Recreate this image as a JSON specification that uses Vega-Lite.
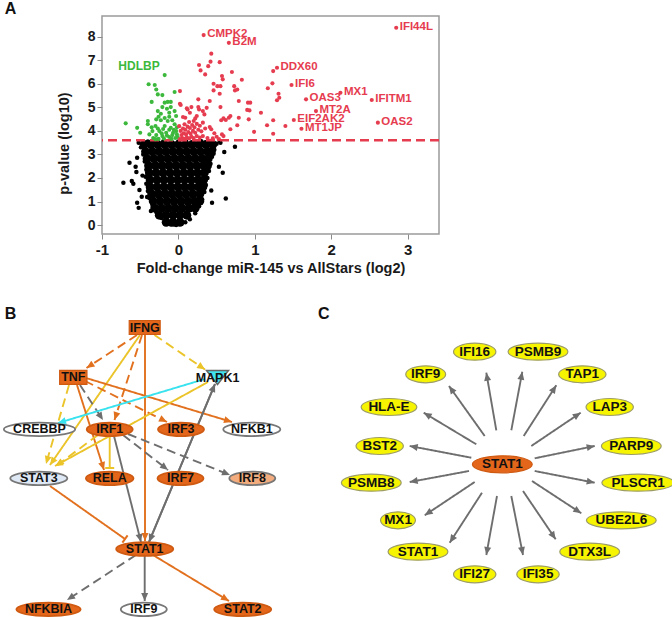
{
"$schema": "https://vega.github.io/schema/vega-lite/v6.json",
"padding": {"left": 0, "top": 1, "right": 0, "bottom": 0},
"bounds": "flush",
"spacing": 10,
"config": {
  "font": "Liberation Sans",
  "view": {"stroke": null},
  "axis": {"labelFontWeight": "bold", "titleFontWeight": "bold", "labelColor": "#1a1a1a", "titleColor": "#1a1a1a", "grid": false, "domain": false, "tickColor": "#8a8a8a", "tickSize": 5, "tickWidth": 1, "labelOverlap": false},
  "axisX": {"labelFontSize": 15, "titleFontSize": 14.5, "labelPadding": 3, "titlePadding": 4},
  "axisY": {"labelFontSize": 14, "titleFontSize": 14.5, "labelPadding": 2, "titlePadding": 16}
},
"datasets": {
  "black_core": [
    {"fc":-0.16,"p":0.12},{"fc":-0.07,"p":0.12},{"fc":0.02,"p":0.12},
    {"fc":-0.25,"p":0.42},{"fc":-0.16,"p":0.42},{"fc":-0.07,"p":0.42},{"fc":0.02,"p":0.42},{"fc":0.11,"p":0.42},
    {"fc":-0.31,"p":0.72},{"fc":-0.22,"p":0.72},{"fc":-0.13,"p":0.72},{"fc":-0.04,"p":0.72},{"fc":0.05,"p":0.72},{"fc":0.14,"p":0.72},{"fc":0.22,"p":0.72},
    {"fc":-0.33,"p":1.02},{"fc":-0.24,"p":1.02},{"fc":-0.15,"p":1.02},{"fc":-0.06,"p":1.02},{"fc":0.03,"p":1.02},{"fc":0.12,"p":1.02},{"fc":0.21,"p":1.02},{"fc":0.28,"p":1.02},
    {"fc":-0.35,"p":1.32},{"fc":-0.26,"p":1.32},{"fc":-0.17,"p":1.32},{"fc":-0.08,"p":1.32},{"fc":0.01,"p":1.32},{"fc":0.10,"p":1.32},{"fc":0.19,"p":1.32},{"fc":0.28,"p":1.32},
    {"fc":-0.37,"p":1.62},{"fc":-0.28,"p":1.62},{"fc":-0.19,"p":1.62},{"fc":-0.10,"p":1.62},{"fc":-0.01,"p":1.62},{"fc":0.08,"p":1.62},{"fc":0.17,"p":1.62},{"fc":0.26,"p":1.62},{"fc":0.32,"p":1.62},
    {"fc":-0.37,"p":1.92},{"fc":-0.28,"p":1.92},{"fc":-0.19,"p":1.92},{"fc":-0.10,"p":1.92},{"fc":-0.01,"p":1.92},{"fc":0.08,"p":1.92},{"fc":0.17,"p":1.92},{"fc":0.26,"p":1.92},{"fc":0.33,"p":1.92},
    {"fc":-0.38,"p":2.22},{"fc":-0.29,"p":2.22},{"fc":-0.20,"p":2.22},{"fc":-0.11,"p":2.22},{"fc":-0.02,"p":2.22},{"fc":0.07,"p":2.22},{"fc":0.16,"p":2.22},{"fc":0.25,"p":2.22},{"fc":0.34,"p":2.22},
    {"fc":-0.39,"p":2.52},{"fc":-0.30,"p":2.52},{"fc":-0.21,"p":2.52},{"fc":-0.12,"p":2.52},{"fc":-0.03,"p":2.52},{"fc":0.06,"p":2.52},{"fc":0.15,"p":2.52},{"fc":0.24,"p":2.52},{"fc":0.33,"p":2.52},{"fc":0.38,"p":2.52},
    {"fc":-0.41,"p":2.82},{"fc":-0.32,"p":2.82},{"fc":-0.23,"p":2.82},{"fc":-0.14,"p":2.82},{"fc":-0.05,"p":2.82},{"fc":0.04,"p":2.82},{"fc":0.13,"p":2.82},{"fc":0.22,"p":2.82},{"fc":0.31,"p":2.82},{"fc":0.39,"p":2.82},
    {"fc":-0.43,"p":3.12},{"fc":-0.34,"p":3.12},{"fc":-0.25,"p":3.12},{"fc":-0.16,"p":3.12},{"fc":-0.07,"p":3.12},{"fc":0.02,"p":3.12},{"fc":0.11,"p":3.12},{"fc":0.20,"p":3.12},{"fc":0.29,"p":3.12},{"fc":0.38,"p":3.12},{"fc":0.43,"p":3.12},
    {"fc":-0.45,"p":3.42},{"fc":-0.36,"p":3.42},{"fc":-0.27,"p":3.42},{"fc":-0.18,"p":3.42},{"fc":-0.09,"p":3.42},{"fc":0.00,"p":3.42},{"fc":0.09,"p":3.42},{"fc":0.18,"p":3.42},{"fc":0.27,"p":3.42},{"fc":0.36,"p":3.42},{"fc":0.45,"p":3.42}
  ],
  "black_edge": [
    {"fc":-0.22,"p":0.3},{"fc":-0.29,"p":0.55},{"fc":-0.34,"p":0.85},{"fc":-0.38,"p":1.15},{"fc":-0.4,"p":1.45},{"fc":-0.42,"p":1.75},{"fc":-0.43,"p":2.05},{"fc":-0.42,"p":2.35},{"fc":-0.44,"p":2.7},{"fc":-0.46,"p":3.0},{"fc":-0.49,"p":3.3},{"fc":-0.52,"p":3.5},{"fc":-0.47,"p":3.43},{"fc":-0.38,"p":2.29},{"fc":-0.41,"p":1.19},{"fc":-0.36,"p":0.6},
    {"fc":0.15,"p":0.25},{"fc":0.22,"p":0.5},{"fc":0.27,"p":0.8},{"fc":0.31,"p":1.1},{"fc":0.34,"p":1.4},{"fc":0.36,"p":1.7},{"fc":0.38,"p":2.0},{"fc":0.4,"p":2.3},{"fc":0.42,"p":2.6},{"fc":0.44,"p":2.9},{"fc":0.47,"p":3.2},{"fc":0.5,"p":3.45},{"fc":0.55,"p":3.5},{"fc":0.46,"p":3.03},{"fc":0.53,"p":2.48},{"fc":0.44,"p":0.95},{"fc":0.43,"p":1.47},{"fc":0.58,"p":2.22},
    {"fc":-0.1,"p":0.02},{"fc":-0.03,"p":0.0},{"fc":0.04,"p":0.05},{"fc":-0.15,"p":0.1},{"fc":0.09,"p":0.12},
    {"fc":-0.72,"p":1.80},{"fc":-0.64,"p":2.65},{"fc":-0.61,"p":1.87},{"fc":-0.59,"p":1.75},{"fc":-0.56,"p":2.48},{"fc":-0.55,"p":2.25},{"fc":-0.54,"p":0.95},{"fc":-0.52,"p":0.73},{"fc":-0.51,"p":1.49},{"fc":-0.54,"p":2.86},{"fc":0.62,"p":1.13},{"fc":0.60,"p":3.1},{"fc":0.74,"p":3.33},{"fc":0.54,"p":3.57},{"fc":-0.47,"p":2.1},{"fc":-0.48,"p":1.2},
    {"fc":-0.4,"p":3.55},{"fc":-0.3,"p":3.56},{"fc":-0.2,"p":3.55},{"fc":-0.1,"p":3.57},{"fc":0.0,"p":3.55},{"fc":0.1,"p":3.56},{"fc":0.2,"p":3.55},{"fc":0.3,"p":3.56},{"fc":0.4,"p":3.55}
  ],
  "green": [
    {"fc":-0.18,"p":6.37,"gene":"HDLBP"},
    {"fc":-0.39,"p":5.98},{"fc":-0.31,"p":5.95},{"fc":-0.29,"p":5.76},{"fc":-0.27,"p":5.55},{"fc":-0.21,"p":5.52},{"fc":-0.05,"p":5.65},{"fc":-0.35,"p":5.23},{"fc":-0.18,"p":5.20},{"fc":-0.14,"p":5.23},{"fc":-0.10,"p":5.23},{"fc":-0.21,"p":5.01},{"fc":-0.15,"p":4.94},{"fc":-0.10,"p":5.01},{"fc":-0.27,"p":4.84},{"fc":-0.05,"p":4.84},{"fc":-0.23,"p":4.73},{"fc":-0.12,"p":4.77},{"fc":-0.03,"p":4.63},{"fc":-0.69,"p":4.32},{"fc":-0.54,"p":4.13},{"fc":-0.50,"p":3.92},{"fc":-0.40,"p":4.42},{"fc":-0.40,"p":4.28},{"fc":-0.29,"p":4.49},{"fc":-0.30,"p":4.21},{"fc":-0.34,"p":3.99},{"fc":-0.23,"p":4.45},{"fc":-0.18,"p":4.21},{"fc":-0.14,"p":4.42},{"fc":-0.10,"p":4.13},{"fc":-0.05,"p":4.28},{"fc":-0.25,"p":3.99},{"fc":-0.16,"p":3.92},{"fc":-0.07,"p":3.92},{"fc":-0.38,"p":3.85},{"fc":-0.29,"p":3.82},{"fc":-0.03,"p":3.99},{"fc":-0.21,"p":3.78},{"fc":-0.12,"p":3.74},{"fc":-0.01,"p":3.74},
    {"fc":-0.33,"p":3.7},{"fc":-0.26,"p":3.66},{"fc":-0.19,"p":3.68},{"fc":-0.09,"p":3.66},{"fc":-0.04,"p":3.7},{"fc":-0.15,"p":3.8},{"fc":-0.08,"p":3.82},{"fc":-0.02,"p":3.85},{"fc":-0.12,"p":4.05},{"fc":-0.2,"p":4.08},{"fc":-0.27,"p":4.1},{"fc":-0.35,"p":4.15},{"fc":-0.08,"p":4.45},{"fc":-0.18,"p":4.55},{"fc":-0.26,"p":4.6},{"fc":-0.12,"p":4.6},{"fc":-0.3,"p":3.65},{"fc":-0.06,"p":4.05},{"fc":-0.22,"p":3.9},{"fc":-0.02,"p":4.15}
  ],
  "red": [
    {"fc":0.33,"p":8.07,"gene":"CMPK2"},{"fc":0.66,"p":7.74,"gene":"B2M"},{"fc":2.85,"p":8.38,"gene":"IFI44L"},{"fc":1.29,"p":6.68,"gene":"DDX60"},{"fc":1.48,"p":5.95,"gene":"IFI6"},{"fc":1.67,"p":5.34,"gene":"OAS3"},{"fc":2.12,"p":5.62,"gene":"MX1"},{"fc":2.53,"p":5.31,"gene":"IFITM1"},{"fc":1.80,"p":4.84,"gene":"MT2A"},{"fc":1.51,"p":4.46,"gene":"EIF2AK2"},{"fc":1.61,"p":4.09,"gene":"MT1JP"},{"fc":2.61,"p":4.35,"gene":"OAS2"},
    {"fc":1.24,"p":6.54},{"fc":0.43,"p":7.28},{"fc":0.42,"p":6.94},{"fc":0.54,"p":6.92},{"fc":0.27,"p":6.80},{"fc":0.39,"p":6.75},{"fc":0.29,"p":6.57},{"fc":0.35,"p":6.40},{"fc":0.70,"p":6.50},{"fc":0.57,"p":6.33},{"fc":0.58,"p":6.19},{"fc":0.83,"p":6.17},{"fc":0.46,"p":6.00},{"fc":0.51,"p":5.90},{"fc":0.55,"p":5.90},{"fc":0.73,"p":5.90},{"fc":0.74,"p":5.72},{"fc":0.77,"p":5.76},{"fc":0.46,"p":5.72},{"fc":0.54,"p":5.58},{"fc":0.02,"p":5.69},{"fc":0.26,"p":5.34},{"fc":0.41,"p":5.27},{"fc":0.26,"p":5.01},{"fc":0.17,"p":5.01},{"fc":0.11,"p":4.96},{"fc":0.37,"p":4.98},{"fc":0.55,"p":5.01},{"fc":0.79,"p":5.27},{"fc":0.91,"p":5.20},{"fc":0.94,"p":5.20},{"fc":0.90,"p":4.89},{"fc":0.93,"p":4.87},{"fc":1.08,"p":4.77},{"fc":0.03,"p":5.10},{"fc":0.24,"p":4.63},{"fc":0.22,"p":4.53},{"fc":0.09,"p":4.56},{"fc":0.68,"p":4.63},{"fc":0.66,"p":4.56},{"fc":0.62,"p":4.46},{"fc":0.56,"p":4.45},{"fc":0.59,"p":4.53},{"fc":0.79,"p":4.56},{"fc":0.92,"p":4.49},{"fc":1.24,"p":4.45},{"fc":1.16,"p":4.24},{"fc":1.40,"p":4.21},{"fc":0.77,"p":4.24},{"fc":0.68,"p":4.07},{"fc":0.99,"p":3.96},{"fc":1.24,"p":3.88},{"fc":0.57,"p":3.85},{"fc":0.41,"p":4.16},{"fc":0.43,"p":4.07},{"fc":0.32,"p":3.78},{"fc":0.59,"p":3.78},{"fc":1.23,"p":6.02},{"fc":1.17,"p":5.81},{"fc":1.31,"p":5.58},{"fc":1.32,"p":5.41},{"fc":1.29,"p":5.30},{"fc":0.12,"p":4.91},{"fc":0.15,"p":4.77},{"fc":0.27,"p":4.91},{"fc":0.32,"p":4.84},{"fc":0.34,"p":4.70},{"fc":0.02,"p":5.15},{"fc":0.06,"p":4.59},
    {"fc":0.02,"p":3.65},{"fc":0.05,"p":3.7},{"fc":0.08,"p":3.66},{"fc":0.11,"p":3.72},{"fc":0.14,"p":3.68},{"fc":0.17,"p":3.75},{"fc":0.2,"p":3.7},{"fc":0.24,"p":3.78},{"fc":0.28,"p":3.72},{"fc":0.04,"p":3.82},{"fc":0.07,"p":3.9},{"fc":0.1,"p":3.85},{"fc":0.13,"p":3.95},{"fc":0.16,"p":3.88},{"fc":0.19,"p":4.0},{"fc":0.22,"p":3.92},{"fc":0.26,"p":4.05},{"fc":0.3,"p":3.98},{"fc":0.03,"p":4.0},{"fc":0.06,"p":4.1},{"fc":0.09,"p":4.05},{"fc":0.12,"p":4.18},{"fc":0.15,"p":4.12},{"fc":0.18,"p":4.25},{"fc":0.21,"p":4.15},{"fc":0.24,"p":4.3},{"fc":0.28,"p":4.22},{"fc":0.32,"p":4.35},{"fc":0.08,"p":4.28},{"fc":0.14,"p":4.38},{"fc":0.2,"p":4.42},{"fc":0.01,"p":4.2},{"fc":0.35,"p":4.1},{"fc":0.38,"p":3.7},{"fc":0.45,"p":3.68},{"fc":0.5,"p":3.75},{"fc":0.53,"p":3.65},{"fc":0.47,"p":3.9}
  ],
  "threshold": [{"p": 3.6}],
  "nodes": [
    {"panel":"B","label":"IFNG","x":141.7,"y":326.5,"type":"cytokine","pred":"up"},
    {"panel":"B","label":"TNF","x":70.3,"y":376.3,"type":"cytokine","pred":"up"},
    {"panel":"B","label":"MAPK1","x":214.5,"y":376.5,"type":"kinase","pred":"down"},
    {"panel":"B","label":"CREBBP","x":36.5,"y":428.3,"type":"tr","pred":"none"},
    {"panel":"B","label":"IRF1","x":106.7,"y":428.3,"type":"tr","pred":"up"},
    {"panel":"B","label":"IRF3","x":178,"y":428.3,"type":"tr","pred":"up"},
    {"panel":"B","label":"NFKB1","x":248.8,"y":428.3,"type":"tr","pred":"none"},
    {"panel":"B","label":"STAT3","x":35.8,"y":477.3,"type":"tr","pred":"down_weak"},
    {"panel":"B","label":"RELA","x":106.7,"y":477.3,"type":"tr","pred":"up"},
    {"panel":"B","label":"IRF7","x":177.5,"y":477.3,"type":"tr","pred":"up"},
    {"panel":"B","label":"IRF8","x":249.3,"y":477.3,"type":"tr","pred":"up_weak"},
    {"panel":"B","label":"STAT1","x":141.7,"y":548,"type":"tr","pred":"up"},
    {"panel":"B","label":"NFKBIA","x":45.5,"y":608.3,"type":"tr","pred":"up"},
    {"panel":"B","label":"IRF9","x":140.8,"y":608.3,"type":"tr","pred":"none"},
    {"panel":"B","label":"STAT2","x":239.7,"y":608.3,"type":"tr","pred":"up"},
    {"panel":"C","label":"STAT1","x":499.3,"y":463.3,"type":"tr","pred":"up"},
    {"panel":"C","label":"IFI16","x":471.7,"y":350.7,"type":"tr","pred":"target"},
    {"panel":"C","label":"PSMB9","x":535,"y":350.7,"type":"tr","pred":"target"},
    {"panel":"C","label":"IRF9","x":422.7,"y":373.3,"type":"tr","pred":"target"},
    {"panel":"C","label":"TAP1","x":579.3,"y":373.3,"type":"tr","pred":"target"},
    {"panel":"C","label":"HLA-E","x":386,"y":406,"type":"tr","pred":"target"},
    {"panel":"C","label":"LAP3","x":606.7,"y":406,"type":"tr","pred":"target"},
    {"panel":"C","label":"BST2","x":376.7,"y":445,"type":"tr","pred":"target"},
    {"panel":"C","label":"PARP9","x":628.3,"y":445,"type":"tr","pred":"target"},
    {"panel":"C","label":"PSMB8","x":368.3,"y":481.7,"type":"tr","pred":"target"},
    {"panel":"C","label":"PLSCR1","x":635,"y":481.7,"type":"tr","pred":"target"},
    {"panel":"C","label":"MX1","x":395,"y":519.3,"type":"tr","pred":"target"},
    {"panel":"C","label":"UBE2L6","x":618.3,"y":519.3,"type":"tr","pred":"target"},
    {"panel":"C","label":"STAT1","x":415,"y":550.7,"type":"tr","pred":"target"},
    {"panel":"C","label":"DTX3L","x":586.7,"y":550.7,"type":"tr","pred":"target"},
    {"panel":"C","label":"IFI27","x":471.7,"y":573.3,"type":"tr","pred":"target"},
    {"panel":"C","label":"IFI35","x":535,"y":573.3,"type":"tr","pred":"target"}
  ],
  "edges": [
    {"panel":"B","x":134,"y":334,"x2":83.5,"y2":367,"effect":"activation","mode":"indirect","rel":"acts"},
    {"panel":"B","x":137,"y":334,"x2":47,"y2":464,"effect":"inconsistent","mode":"direct","rel":"acts"},
    {"panel":"B","x":139,"y":334,"x2":111.5,"y2":419,"effect":"activation","mode":"indirect","rel":"acts"},
    {"panel":"B","x":142,"y":334,"x2":142,"y2":540,"effect":"activation","mode":"direct","rel":"acts"},
    {"panel":"B","x":151.5,"y":334,"x2":202,"y2":368.5,"effect":"inconsistent","mode":"indirect","rel":"acts"},
    {"panel":"B","x":66,"y":384,"x2":43,"y2":463,"effect":"inconsistent","mode":"indirect","rel":"acts"},
    {"panel":"B","x":74,"y":384,"x2":101,"y2":469,"effect":"activation","mode":"direct","rel":"acts"},
    {"panel":"B","x":77,"y":384,"x2":100,"y2":419,"effect":"unpredicted","mode":"indirect","rel":"acts"},
    {"panel":"B","x":82,"y":380,"x2":164,"y2":421,"effect":"activation","mode":"indirect","rel":"acts"},
    {"panel":"B","x":83,"y":377,"x2":229,"y2":421,"effect":"activation","mode":"direct","rel":"acts"},
    {"panel":"B","x":202,"y":378,"x2":55,"y2":422,"effect":"inhibition","mode":"direct","rel":"acts"},
    {"panel":"B","x":205,"y":381,"x2":52,"y2":465,"effect":"inconsistent","mode":"direct","rel":"acts"},
    {"panel":"B","x":146,"y":541,"x2":212,"y2":383,"effect":"unpredicted","mode":"direct","rel":"acts"},
    {"panel":"B","x":212,"y":383,"x2":146,"y2":541,"effect":"unpredicted","mode":"direct","rel":"acts"},
    {"panel":"B","x":111,"y":435,"x2":138,"y2":541,"effect":"unpredicted","mode":"direct","rel":"acts"},
    {"panel":"B","x":120,"y":434,"x2":165,"y2":469,"effect":"unpredicted","mode":"indirect","rel":"acts"},
    {"panel":"B","x":125,"y":433,"x2":227,"y2":474,"effect":"unpredicted","mode":"indirect","rel":"acts"},
    {"panel":"B","x":106.7,"y":435,"x2":106.7,"y2":467,"effect":"inconsistent","mode":"direct","rel":"inhibits"},
    {"panel":"B","x":95,"y":434,"x2":53,"y2":465,"effect":"inconsistent","mode":"indirect","rel":"acts"},
    {"panel":"B","x":47,"y":485,"x2":122,"y2":538,"effect":"activation","mode":"direct","rel":"inhibits"},
    {"panel":"B","x":133,"y":554,"x2":64,"y2":599,"effect":"unpredicted","mode":"indirect","rel":"acts"},
    {"panel":"B","x":141.7,"y":555,"x2":141.7,"y2":600,"effect":"unpredicted","mode":"direct","rel":"acts"},
    {"panel":"B","x":150,"y":554,"x2":226,"y2":600,"effect":"activation","mode":"direct","rel":"acts"},
    {"panel":"C","x":493.3,"y":429.3,"x2":483.3,"y2":371.7,"effect":"unpredicted","mode":"direct","rel":"acts"},
    {"panel":"C","x":508.3,"y":429.3,"x2":519.3,"y2":370.7,"effect":"unpredicted","mode":"direct","rel":"acts"},
    {"panel":"C","x":481.7,"y":435,"x2":446,"y2":385,"effect":"unpredicted","mode":"direct","rel":"acts"},
    {"panel":"C","x":520.7,"y":435,"x2":553.3,"y2":384.3,"effect":"unpredicted","mode":"direct","rel":"acts"},
    {"panel":"C","x":473.3,"y":443.3,"x2":420.7,"y2":411.7,"effect":"unpredicted","mode":"direct","rel":"acts"},
    {"panel":"C","x":528.3,"y":445,"x2":577.7,"y2":411.7,"effect":"unpredicted","mode":"direct","rel":"acts"},
    {"panel":"C","x":468.3,"y":456.7,"x2":406.7,"y2":445,"effect":"unpredicted","mode":"direct","rel":"acts"},
    {"panel":"C","x":531.7,"y":457.3,"x2":591.7,"y2":445,"effect":"unpredicted","mode":"direct","rel":"acts"},
    {"panel":"C","x":466,"y":470,"x2":406.7,"y2":481,"effect":"unpredicted","mode":"direct","rel":"acts"},
    {"panel":"C","x":531.7,"y":470,"x2":591.7,"y2":481.7,"effect":"unpredicted","mode":"direct","rel":"acts"},
    {"panel":"C","x":471.7,"y":481,"x2":421.7,"y2":514.3,"effect":"unpredicted","mode":"direct","rel":"acts"},
    {"panel":"C","x":529,"y":480,"x2":578.3,"y2":512.3,"effect":"unpredicted","mode":"direct","rel":"acts"},
    {"panel":"C","x":479,"y":491.7,"x2":446.7,"y2":541.7,"effect":"unpredicted","mode":"direct","rel":"acts"},
    {"panel":"C","x":520,"y":490,"x2":552.7,"y2":538.3,"effect":"unpredicted","mode":"direct","rel":"acts"},
    {"panel":"C","x":494,"y":495,"x2":483.3,"y2":554,"effect":"unpredicted","mode":"direct","rel":"acts"},
    {"panel":"C","x":508.3,"y":495,"x2":520,"y2":554,"effect":"unpredicted","mode":"direct","rel":"acts"}
  ],
  "panels": [
    {"letter":"A","x":1.7,"y":13.3},
    {"letter":"B","x":1.7,"y":317.7},
    {"letter":"C","x":315,"y":318}
  ]
},
"vconcat": [
  {
    "width": 337,
    "height": 218,
    "view": {"stroke": "#9a9a9a", "strokeWidth": 1.5},
    "layer": [
      {
        "data": {"name": "black_core"},
        "mark": {"type": "circle", "color": "#000000", "opacity": 1, "size": 80},
        "encoding": {
          "x": {"field": "fc", "type": "quantitative", "title": "Fold-change miR-145 vs AllStars (log2)", "scale": {"domain": [-1, 3.41], "nice": false, "zero": false}, "axis": {"values": [-1, 0, 1, 2, 3], "labelFlush": false, "labelExpr": "'' + datum.value"}},
          "y": {"field": "p", "type": "quantitative", "title": "p-value (log10)", "scale": {"domain": [-0.38, 8.88], "nice": false, "zero": false}, "axis": {"values": [0, 1, 2, 3, 4, 5, 6, 7, 8], "titleY": 127, "labelExpr": "'' + datum.value"}}
        }
      },
      {
        "data": {"name": "black_edge"},
        "mark": {"type": "circle", "color": "#000000", "opacity": 1, "size": 20},
        "encoding": {
          "x": {"field": "fc", "type": "quantitative", "title": "Fold-change miR-145 vs AllStars (log2)", "axis": {"values": [-1, 0, 1, 2, 3], "labelFlush": false, "labelExpr": "'' + datum.value"}},
          "y": {"field": "p", "type": "quantitative", "title": "p-value (log10)", "axis": {"values": [0, 1, 2, 3, 4, 5, 6, 7, 8], "titleY": 127, "labelExpr": "'' + datum.value"}}
        }
      },
      {
        "data": {"name": "threshold"},
        "mark": {"type": "rule", "color": "#e63c4f", "strokeWidth": 2.5, "strokeDash": [9, 5]},
        "encoding": {
          "y": {"field": "p", "type": "quantitative", "title": "p-value (log10)", "axis": {"values": [0, 1, 2, 3, 4, 5, 6, 7, 8], "titleY": 127, "labelExpr": "'' + datum.value"}}
        }
      },
      {
        "data": {"name": "green"},
        "mark": {"type": "circle", "color": "#3cb83c", "opacity": 1, "size": 17},
        "encoding": {
          "x": {"field": "fc", "type": "quantitative", "title": "Fold-change miR-145 vs AllStars (log2)", "axis": {"values": [-1, 0, 1, 2, 3], "labelFlush": false, "labelExpr": "'' + datum.value"}},
          "y": {"field": "p", "type": "quantitative", "title": "p-value (log10)", "axis": {"values": [0, 1, 2, 3, 4, 5, 6, 7, 8], "titleY": 127, "labelExpr": "'' + datum.value"}}
        }
      },
      {
        "data": {"name": "red"},
        "mark": {"type": "circle", "color": "#e63c4f", "opacity": 1, "size": 17},
        "encoding": {
          "x": {"field": "fc", "type": "quantitative", "title": "Fold-change miR-145 vs AllStars (log2)", "axis": {"values": [-1, 0, 1, 2, 3], "labelFlush": false, "labelExpr": "'' + datum.value"}},
          "y": {"field": "p", "type": "quantitative", "title": "p-value (log10)", "axis": {"values": [0, 1, 2, 3, 4, 5, 6, 7, 8], "titleY": 127, "labelExpr": "'' + datum.value"}}
        }
      },
      {
        "data": {"name": "red"},
        "transform": [{"filter": "isValid(datum.gene)"}],
        "mark": {"type": "text", "color": "#e63c4f", "fontWeight": "bold", "fontSize": 11.5, "align": "left", "baseline": "middle", "dx": 3.5, "dy": -1},
        "encoding": {
          "x": {"field": "fc", "type": "quantitative", "title": "Fold-change miR-145 vs AllStars (log2)", "axis": {"values": [-1, 0, 1, 2, 3], "labelFlush": false, "labelExpr": "'' + datum.value"}},
          "y": {"field": "p", "type": "quantitative", "title": "p-value (log10)", "axis": {"values": [0, 1, 2, 3, 4, 5, 6, 7, 8], "titleY": 127, "labelExpr": "'' + datum.value"}},
          "text": {"field": "gene"}
        }
      },
      {
        "data": {"name": "green"},
        "transform": [{"filter": "isValid(datum.gene)"}],
        "mark": {"type": "text", "color": "#3cb83c", "fontWeight": "bold", "fontSize": 12, "align": "right", "baseline": "middle", "dx": -5, "dy": -9},
        "encoding": {
          "x": {"field": "fc", "type": "quantitative", "title": "Fold-change miR-145 vs AllStars (log2)", "axis": {"values": [-1, 0, 1, 2, 3], "labelFlush": false, "labelExpr": "'' + datum.value"}},
          "y": {"field": "p", "type": "quantitative", "title": "p-value (log10)", "axis": {"values": [0, 1, 2, 3, 4, 5, 6, 7, 8], "titleY": 127, "labelExpr": "'' + datum.value"}},
          "text": {"field": "gene"}
        }
      }
    ]
  },
  {
    "width": 573,
    "height": 374,
    "view": {"stroke": null},
    "layer": [
      {
        "data": {"name": "edges"},
        "mark": {"type": "rule", "strokeWidth": 1.9},
        "encoding": {
          "x": {"field": "x", "type": "quantitative", "axis": null, "scale": {"domain": [99, 672], "nice": false, "zero": false}},
          "y": {"field": "y", "type": "quantitative", "axis": null, "scale": {"domain": [243, 617], "nice": false, "zero": false, "reverse": true}},
          "x2": {"field": "x2"},
          "y2": {"field": "y2"},
          "color": {"field": "effect", "type": "nominal", "legend": null, "scale": {"domain": ["activation", "inconsistent", "unpredicted", "inhibition"], "range": ["#e2711f", "#ebc42a", "#6e6e6e", "#38e2ee"]}},
          "strokeDash": {"field": "mode", "type": "nominal", "legend": null, "scale": {"domain": ["direct", "indirect"], "range": [[1, 0], [9, 5]]}}
        }
      },
      {
        "data": {"name": "nodes"},
        "transform": [{"filter": "datum.panel === 'B' && datum.type === 'tr'"}],
        "mark": {"type": "point", "filled": true, "opacity": 1, "strokeWidth": 1.8,
          "size": {"expr": "pow(max(46,17*(0.7*length(datum.label)-0.42*(length(datum.label)-length(replace(datum.label,regexp('I','g'),'')))-0.14*(length(datum.label)-length(replace(datum.label,regexp('[0-9]','g'),'')))-0.37*(length(datum.label)-length(replace(datum.label,regexp('-','g'),''))))),2)"},
          "shape": {"expr": "'M-1,0A1,'+(13.5/max(46,17*(0.7*length(datum.label)-0.42*(length(datum.label)-length(replace(datum.label,regexp('I','g'),'')))-0.14*(length(datum.label)-length(replace(datum.label,regexp('[0-9]','g'),'')))-0.37*(length(datum.label)-length(replace(datum.label,regexp('-','g'),''))))))+' 0 1,1 1,0A1,'+(13.5/max(46,17*(0.7*length(datum.label)-0.42*(length(datum.label)-length(replace(datum.label,regexp('I','g'),'')))-0.14*(length(datum.label)-length(replace(datum.label,regexp('[0-9]','g'),'')))-0.37*(length(datum.label)-length(replace(datum.label,regexp('-','g'),''))))))+' 0 1,1 -1,0Z'"}
        },
        "encoding": {
          "x": {"field": "x", "type": "quantitative"},
          "y": {"field": "y", "type": "quantitative"},
          "fill": {"field": "pred", "type": "nominal", "legend": null, "scale": {"domain": ["up", "up_weak", "none", "down_weak", "down", "target"], "range": ["#e4661a", "#f2ac7e", "#ffffff", "#dfe9f5", "#40e4ee", "#f7f400"]}},
          "stroke": {"field": "pred", "type": "nominal", "legend": null, "scale": {"domain": ["up", "up_weak", "none", "down_weak", "down", "target"], "range": ["#cf5a12", "#777777", "#777777", "#777777", "#666666", "#9c9c66"]}}
        }
      },
      {
        "data": {"name": "nodes"},
        "transform": [{"filter": "datum.type === 'cytokine'"}],
        "mark": {"type": "point", "filled": true, "opacity": 1, "strokeWidth": 1.2,
          "size": {"expr": "pow(13*(0.7*length(datum.label)-0.42*(length(datum.label)-length(replace(datum.label,regexp('I','g'),'')))),2)"},
          "shape": {"expr": "'M-1,-'+(14/(13*(0.7*length(datum.label)-0.42*(length(datum.label)-length(replace(datum.label,regexp('I','g'),''))))))+'L1,-'+(14/(13*(0.7*length(datum.label)-0.42*(length(datum.label)-length(replace(datum.label,regexp('I','g'),''))))))+'L1,'+(14/(13*(0.7*length(datum.label)-0.42*(length(datum.label)-length(replace(datum.label,regexp('I','g'),''))))))+'L-1,'+(14/(13*(0.7*length(datum.label)-0.42*(length(datum.label)-length(replace(datum.label,regexp('I','g'),''))))))+'Z'"}
        },
        "encoding": {
          "x": {"field": "x", "type": "quantitative"},
          "y": {"field": "y", "type": "quantitative"},
          "fill": {"field": "pred", "type": "nominal", "legend": null},
          "stroke": {"field": "pred", "type": "nominal", "legend": null}
        }
      },
      {
        "data": {"name": "nodes"},
        "transform": [{"filter": "datum.type === 'kinase'"}],
        "mark": {"type": "point", "filled": true, "opacity": 1, "strokeWidth": 1.5, "size": 484, "shape": "M-1,-0.64L1,-0.64L0,0.64Z"},
        "encoding": {
          "x": {"field": "x", "type": "quantitative"},
          "y": {"field": "y", "type": "quantitative"},
          "fill": {"field": "pred", "type": "nominal", "legend": null},
          "stroke": {"field": "pred", "type": "nominal", "legend": null}
        }
      },
      {
        "data": {"name": "nodes"},
        "transform": [{"filter": "datum.panel === 'C'"}],
        "mark": {"type": "point", "filled": true, "opacity": 1, "strokeWidth": 1.2,
          "size": {"expr": "pow(17.8*(0.7*length(datum.label)-0.42*(length(datum.label)-length(replace(datum.label,regexp('I','g'),'')))-0.14*(length(datum.label)-length(replace(datum.label,regexp('[0-9]','g'),'')))-0.37*(length(datum.label)-length(replace(datum.label,regexp('-','g'),'')))),2)"},
          "shape": {"expr": "'M-1,0A1,'+(17/(17.8*(0.7*length(datum.label)-0.42*(length(datum.label)-length(replace(datum.label,regexp('I','g'),'')))-0.14*(length(datum.label)-length(replace(datum.label,regexp('[0-9]','g'),'')))-0.37*(length(datum.label)-length(replace(datum.label,regexp('-','g'),''))))))+' 0 1,1 1,0A1,'+(17/(17.8*(0.7*length(datum.label)-0.42*(length(datum.label)-length(replace(datum.label,regexp('I','g'),'')))-0.14*(length(datum.label)-length(replace(datum.label,regexp('[0-9]','g'),'')))-0.37*(length(datum.label)-length(replace(datum.label,regexp('-','g'),''))))))+' 0 1,1 -1,0Z'"}
        },
        "encoding": {
          "x": {"field": "x", "type": "quantitative"},
          "y": {"field": "y", "type": "quantitative"},
          "fill": {"field": "pred", "type": "nominal", "legend": null},
          "stroke": {"field": "pred", "type": "nominal", "legend": null}
        }
      },
      {
        "data": {"name": "edges"},
        "transform": [{"filter": "datum.rel === 'acts'"}],
        "mark": {"type": "point", "filled": true, "opacity": 1, "strokeWidth": 0, "size": 100, "shape": "M0,0L0.7,1.6L-0.7,1.6Z",
          "angle": {"expr": "atan2(datum.y2-datum.y,datum.x2-datum.x)*180/PI+90"}},
        "encoding": {
          "x": {"field": "x2", "type": "quantitative"},
          "y": {"field": "y2", "type": "quantitative"},
          "color": {"field": "effect", "type": "nominal", "legend": null}
        }
      },
      {
        "data": {"name": "edges"},
        "transform": [{"filter": "datum.rel === 'inhibits'"}],
        "mark": {"type": "point", "filled": false, "opacity": 1, "strokeWidth": 2, "size": 81, "shape": "M-1,0L1,0",
          "angle": {"expr": "atan2(datum.y2-datum.y,datum.x2-datum.x)*180/PI+90"}},
        "encoding": {
          "x": {"field": "x2", "type": "quantitative"},
          "y": {"field": "y2", "type": "quantitative"},
          "color": {"field": "effect", "type": "nominal", "legend": null}
        }
      },
      {
        "data": {"name": "nodes"},
        "transform": [{"filter": "datum.panel === 'B'"}],
        "mark": {"type": "text", "fontWeight": "bold", "fontSize": 12.5, "color": "#111111", "baseline": "middle", "align": "center"},
        "encoding": {
          "x": {"field": "x", "type": "quantitative"},
          "y": {"field": "y", "type": "quantitative"},
          "text": {"field": "label"}
        }
      },
      {
        "data": {"name": "nodes"},
        "transform": [{"filter": "datum.panel === 'C'"}],
        "mark": {"type": "text", "fontWeight": "bold", "fontSize": 13.5, "color": "#111111", "baseline": "middle", "align": "center"},
        "encoding": {
          "x": {"field": "x", "type": "quantitative"},
          "y": {"field": "y", "type": "quantitative"},
          "text": {"field": "label"}
        }
      },
      {
        "data": {"name": "panels"},
        "mark": {"type": "text", "fontWeight": "bold", "fontSize": 16, "color": "#111111", "baseline": "alphabetic", "align": "left"},
        "encoding": {
          "x": {"field": "x", "type": "quantitative"},
          "y": {"field": "y", "type": "quantitative"},
          "text": {"field": "letter"}
        }
      }
    ]
  }
]
}
